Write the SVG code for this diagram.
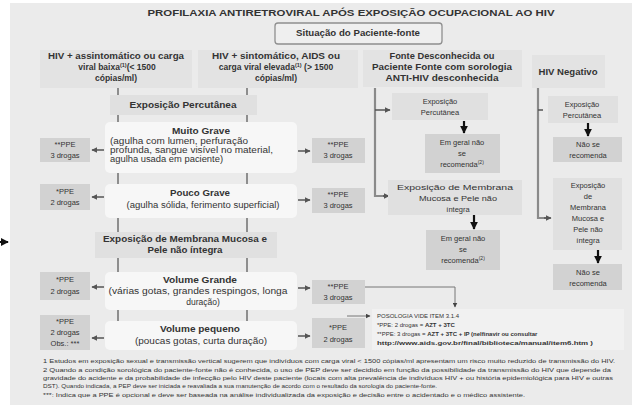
<svg xmlns="http://www.w3.org/2000/svg" width="641" height="413" viewBox="0 0 641 413">
  <defs>
    <marker id="ah" viewBox="0 0 10 10" refX="9" refY="5" markerWidth="6" markerHeight="6" markerUnits="userSpaceOnUse" orient="auto">
      <path d="M0,0 L10,5 L0,10 z" fill="#555"/>
    </marker>
    <marker id="ahb" viewBox="0 0 10 10" refX="9" refY="5" markerWidth="8" markerHeight="8" markerUnits="userSpaceOnUse" orient="auto">
      <path d="M0,0 L10,5 L0,10 z" fill="#111"/>
    </marker>
    <marker id="aht" viewBox="0 0 10 10" refX="9" refY="5" markerWidth="5" markerHeight="5" markerUnits="userSpaceOnUse" orient="auto">
      <path d="M0,0 L10,5 L0,10 z" fill="#444"/>
    </marker>
  </defs>
  <style>
    text{font-family:"Liberation Sans",Arial,sans-serif;fill:#333;font-size:8.5px}
    .m{text-anchor:middle}
    .b{font-weight:bold}
    .hd{fill:#e3e3e3}
    .ex{fill:#e0e0e0}
    .ppe{fill:#d2d2d2}
    .wb{fill:#f7f7f7}
    .sm{font-size:7.5px}
    .fn{font-size:6px}
    .lg{font-size:6px}
    .tick{stroke:#6f6f6f;stroke-width:1.5}
    .side{stroke:#555;stroke-width:1.5;fill:none}
    .rail{stroke:#8a8a8a;stroke-width:2.2;fill:none}
    .down{stroke:#111;stroke-width:2.2;fill:none}
    .thin{stroke:#777;stroke-width:1;fill:none}
  </style>

  <!-- backdrop panel -->
  <rect x="10" y="3" width="622" height="402" fill="#ebebeb"/>

  <text class="m b" x="351" y="16" font-size="9.5" textLength="407" lengthAdjust="spacingAndGlyphs">PROFILAXIA ANTIRETROVIRAL APÓS EXPOSIÇÃO OCUPACIONAL AO HIV</text>

  <!-- connectors -->
  <g id="connectors">
    <line class="tick" x1="118" y1="88" x2="118" y2="321"/>
    <line class="tick" x1="247" y1="88" x2="247" y2="321"/>

    <line class="side" x1="104" y1="150" x2="92" y2="150" marker-end="url(#ah)"/>
    <line class="side" x1="298" y1="151" x2="310" y2="151" marker-end="url(#ah)"/>
    <line class="side" x1="104" y1="197" x2="92" y2="197" marker-end="url(#ah)"/>
    <line class="side" x1="298" y1="200" x2="310" y2="200" marker-end="url(#ah)"/>
    <line class="side" x1="104" y1="287" x2="92" y2="287" marker-end="url(#ah)"/>
    <line class="side" x1="298" y1="288" x2="310" y2="288" marker-end="url(#ah)"/>
    <line class="side" x1="104" y1="338" x2="92" y2="338" marker-end="url(#ah)"/>
    <line class="side" x1="298" y1="336" x2="310" y2="336" marker-end="url(#ah)"/>

    <path class="rail" d="M375,88 V196 H389"/>
    <line class="side" x1="375" y1="110" x2="390" y2="110" marker-end="url(#ah)"/>
    <line class="side" x1="383" y1="196" x2="389" y2="196" marker-end="url(#ah)"/>
    <path class="rail" d="M538,88 V218 H548"/>
    <line class="side" x1="538" y1="110" x2="543" y2="110"/>
    <line class="side" x1="544" y1="218" x2="551" y2="218" marker-end="url(#ah)"/>

    <line class="down" x1="464" y1="121" x2="464" y2="133" marker-end="url(#ahb)"/>
    <line class="down" x1="474" y1="215" x2="474" y2="229" marker-end="url(#ahb)"/>
    <line class="down" x1="588" y1="123" x2="588" y2="136" marker-end="url(#ahb)"/>
    <line class="down" x1="598" y1="250" x2="598" y2="263" marker-end="url(#ahb)"/>

    <path class="thin" d="M365,287 H455 V307" marker-end="url(#aht)"/>
    <line class="thin" x1="347" y1="316" x2="370" y2="316" marker-end="url(#aht)"/>

    <line x1="0" y1="242" x2="8" y2="242" stroke="#111" stroke-width="2" marker-end="url(#ahb)"/>
  </g>

  <g id="source-status">
    <rect x="275" y="23" width="167" height="21" rx="3" fill="#efefef" stroke="#8f8f8f" stroke-width="1.3"/>
    <text class="m b" x="358" y="36" font-size="8" textLength="124" lengthAdjust="spacingAndGlyphs">Situação do Paciente-fonte</text>
  </g>

  <g id="hiv-asymptomatic">
    <rect class="hd" x="40" y="50" width="152" height="38"/>
    <text class="m b" x="116" y="59" textLength="136" lengthAdjust="spacingAndGlyphs">HIV + assintomático ou carga</text>
    <text class="m b" x="117" y="70">viral baixa<tspan font-size="5.5" dy="-3">(1)</tspan><tspan dy="3">(&lt; 1500</tspan></text>
    <text class="m b" x="116" y="81">cópias/ml)</text>
  </g>

  <g id="hiv-symptomatic">
    <rect class="hd" x="198" y="50" width="160" height="38"/>
    <text class="m b" x="276" y="59" textLength="128" lengthAdjust="spacingAndGlyphs">HIV + sintomático, AIDS ou</text>
    <text class="m b" x="276" y="70">carga viral elevada<tspan font-size="5.5" dy="-3">(1)</tspan><tspan dy="3"> (&gt; 1500</tspan></text>
    <text class="m b" x="276" y="81">cópias/ml)</text>
  </g>

  <g id="source-unknown">
    <rect class="hd" x="363" y="50" width="159" height="37"/>
    <text class="m b" x="442" y="59" textLength="105" lengthAdjust="spacingAndGlyphs">Fonte Desconhecida ou</text>
    <text class="m b" x="442" y="70" textLength="140" lengthAdjust="spacingAndGlyphs">Paciente Fonte com sorologia</text>
    <text class="m b" x="442" y="81" textLength="113" lengthAdjust="spacingAndGlyphs">ANTI-HIV desconhecida</text>
  </g>

  <g id="hiv-negative">
    <rect class="hd" x="532" y="55" width="73" height="33"/>
    <text class="m b" x="568" y="75" font-size="7" textLength="59" lengthAdjust="spacingAndGlyphs">HIV Negativo</text>
  </g>

  <g id="percutaneous">
    <rect class="ex" x="110" y="95" width="147" height="20"/>
    <text class="m b" x="183" y="108" textLength="107" lengthAdjust="spacingAndGlyphs">Exposição Percutânea</text>
  </g>

  <g id="very-severe">
    <rect class="wb" x="105" y="122" width="192" height="51" rx="5"/>
    <text class="m b" x="201" y="134" textLength="58" lengthAdjust="spacingAndGlyphs">Muito Grave</text>
    <text x="110" y="144" textLength="138" lengthAdjust="spacingAndGlyphs">(agulha com lumen, perfuração</text>
    <text x="110" y="153" textLength="163" lengthAdjust="spacingAndGlyphs">profunda, sangue visível no material,</text>
    <text x="110" y="162" textLength="113" lengthAdjust="spacingAndGlyphs">agulha usada em paciente)</text>
  </g>

  <g id="ppe-very-severe-a">
    <rect class="ppe" x="40" y="138" width="50" height="24"/>
    <text class="m sm" x="65" y="147">**PPE</text>
    <text class="m sm" x="65" y="158">3 drogas</text>
  </g>
  <g id="ppe-very-severe-b">
    <rect class="ppe" x="312" y="138" width="53" height="25"/>
    <text class="m sm" x="338" y="147">**PPE</text>
    <text class="m sm" x="338" y="158">3 drogas</text>
  </g>

  <g id="less-severe">
    <rect class="wb" x="105" y="184" width="192" height="34" rx="5"/>
    <text class="m b" x="200" y="196" textLength="60" lengthAdjust="spacingAndGlyphs">Pouco Grave</text>
    <text class="m" x="203" y="208" textLength="153" lengthAdjust="spacingAndGlyphs">(agulha sólida, ferimento superficial)</text>
  </g>

  <g id="ppe-less-severe-a">
    <rect class="ppe" x="40" y="184" width="50" height="26"/>
    <text class="m sm" x="65" y="194">*PPE</text>
    <text class="m sm" x="65" y="205">2 drogas</text>
  </g>
  <g id="ppe-less-severe-b">
    <rect class="ppe" x="312" y="188" width="53" height="25"/>
    <text class="m sm" x="338" y="197">**PPE</text>
    <text class="m sm" x="338" y="208">3 drogas</text>
  </g>

  <g id="mucosa">
    <rect class="ex" x="95" y="232" width="182" height="26"/>
    <text class="m b" x="185" y="242" textLength="164" lengthAdjust="spacingAndGlyphs">Exposição de Membrana Mucosa e</text>
    <text class="m b" x="185" y="253" textLength="75" lengthAdjust="spacingAndGlyphs">Pele não íntegra</text>
  </g>

  <g id="large-volume">
    <rect class="wb" x="105" y="272" width="192" height="38" rx="5"/>
    <text class="m b" x="200" y="283" textLength="74" lengthAdjust="spacingAndGlyphs">Volume Grande</text>
    <text class="m" x="198" y="294" textLength="179" lengthAdjust="spacingAndGlyphs">(várias gotas, grandes respingos, longa</text>
    <text class="m" x="203" y="305">duração)</text>
  </g>

  <g id="ppe-large-volume-a">
    <rect class="ppe" x="40" y="272" width="50" height="28"/>
    <text class="m sm" x="65" y="282">*PPE</text>
    <text class="m sm" x="65" y="294">2 drogas</text>
  </g>
  <g id="ppe-large-volume-b">
    <rect class="ppe" x="312" y="280" width="53" height="24"/>
    <text class="m sm" x="338" y="289">**PPE</text>
    <text class="m sm" x="338" y="300">3 drogas</text>
  </g>

  <g id="small-volume">
    <rect class="wb" x="105" y="321" width="192" height="29" rx="5"/>
    <text class="m b" x="200" y="332" textLength="80" lengthAdjust="spacingAndGlyphs">Volume pequeno</text>
    <text class="m" x="201" y="344" textLength="132" lengthAdjust="spacingAndGlyphs">(poucas gotas, curta duração)</text>
  </g>

  <g id="ppe-small-volume-a">
    <rect class="ppe" x="40" y="315" width="50" height="35"/>
    <text class="m sm" x="65" y="324">*PPE</text>
    <text class="m sm" x="65" y="335">2 drogas</text>
    <text class="m sm" x="65" y="346">Obs.: ***</text>
  </g>
  <g id="ppe-small-volume-b">
    <rect class="ppe" x="312" y="318" width="53" height="30"/>
    <text class="m sm" x="338" y="330">*PPE</text>
    <text class="m sm" x="338" y="342">2 drogas</text>
  </g>

  <g id="unknown-percutaneous">
    <rect class="ex" x="392" y="93" width="96" height="27"/>
    <text class="m sm" x="440" y="104">Exposição</text>
    <text class="m sm" x="440" y="115">Percutânea</text>
  </g>
  <g id="unknown-percutaneous-result">
    <rect class="ppe" x="425" y="134" width="75" height="39"/>
    <text class="m sm" x="462" y="145">Em geral não</text>
    <text class="m sm" x="462" y="156">se</text>
    <text class="m sm" x="462" y="167">recomenda<tspan font-size="5" dy="-3">(2)</tspan></text>
  </g>
  <g id="unknown-mucosa">
    <rect class="ex" x="388" y="180" width="134" height="35"/>
    <text class="m sm" x="455" y="190" textLength="116" lengthAdjust="spacingAndGlyphs">Exposição de Membrana</text>
    <text class="m sm" x="458" y="201" textLength="78" lengthAdjust="spacingAndGlyphs">Mucosa e Pele não</text>
    <text class="m sm" x="458" y="212">íntegra</text>
  </g>
  <g id="unknown-mucosa-result">
    <rect class="ppe" x="426" y="230" width="74" height="40"/>
    <text class="m sm" x="463" y="241">Em geral não</text>
    <text class="m sm" x="463" y="252">se</text>
    <text class="m sm" x="463" y="263">recomenda<tspan font-size="5" dy="-3">(2)</tspan></text>
  </g>

  <g id="negative-percutaneous">
    <rect class="ex" x="548" y="96" width="70" height="27"/>
    <text class="m sm" x="582" y="107">Exposição</text>
    <text class="m sm" x="582" y="118">Percutânea</text>
  </g>
  <g id="negative-percutaneous-result">
    <rect class="ppe" x="553" y="137" width="69" height="25"/>
    <text class="m sm" x="588" y="147">Não se</text>
    <text class="m sm" x="588" y="158">recomenda</text>
  </g>
  <g id="negative-mucosa">
    <rect class="ex" x="553" y="178" width="69" height="72"/>
    <text class="m sm" x="588" y="188">Exposição</text>
    <text class="m sm" x="588" y="199">de</text>
    <text class="m sm" x="588" y="210">Membrana</text>
    <text class="m sm" x="588" y="221">Mucosa e</text>
    <text class="m sm" x="588" y="232">Pele não</text>
    <text class="m sm" x="588" y="243">íntegra</text>
  </g>
  <g id="negative-mucosa-result">
    <rect class="ppe" x="553" y="264" width="69" height="26"/>
    <text class="m sm" x="588" y="275">Não se</text>
    <text class="m sm" x="588" y="286">recomenda</text>
  </g>

  <g id="dosage-legend">
    <rect x="372" y="309" width="252" height="41" fill="#f1f1f1"/>
    <text class="lg" x="377" y="318">POSOLOGIA VIDE ITEM 3.1.4</text>
    <text class="lg" x="377" y="327">*PPE: 2 drogas = <tspan class="b">AZT + 3TC</tspan></text>
    <text class="lg" x="377" y="336">**PPE: 3 drogas = <tspan class="b">AZT + 3TC + IP (nelfinavir ou consultar</tspan></text>
    <text class="lg b" x="377" y="345" textLength="216" lengthAdjust="spacingAndGlyphs">http://www.aids.gov.br/final/biblioteca/manual/item6.htm )</text>
  </g>

  <g id="footnotes">
    <text class="fn" x="43" y="363" textLength="572" lengthAdjust="spacingAndGlyphs">1 Estudos em exposição sexual e transmissão vertical sugerem que indivíduos com carga viral &lt; 1500 cópias/ml apresentam um risco muito reduzido de transmissão do HIV.</text>
    <text class="fn" x="43" y="372" textLength="568" lengthAdjust="spacingAndGlyphs">2 Quando a condição sorológica do paciente-fonte não é conhecida, o uso de PEP deve ser decidido em função da possibilidade da transmissão do HIV que depende da</text>
    <text class="fn" x="43" y="380" textLength="570" lengthAdjust="spacingAndGlyphs">gravidade do acidente e da probabilidade de infecção pelo HIV deste paciente (locais com alta prevalência de indivíduos HIV + ou história epidemiológica para HIV e outras</text>
    <text class="fn" x="43" y="388" textLength="394" lengthAdjust="spacingAndGlyphs">DST). Quando indicada, a PEP deve ser iniciada e reavaliada a sua manutenção de acordo com o resultado da sorologia do paciente-fonte.</text>
    <text class="fn" x="43" y="397" textLength="482" lengthAdjust="spacingAndGlyphs">***: Indica que a PPE é opcional e deve ser baseada na análise individualizada da exposição e decisão entre o acidentado e o médico assistente.</text>
  </g>
</svg>
